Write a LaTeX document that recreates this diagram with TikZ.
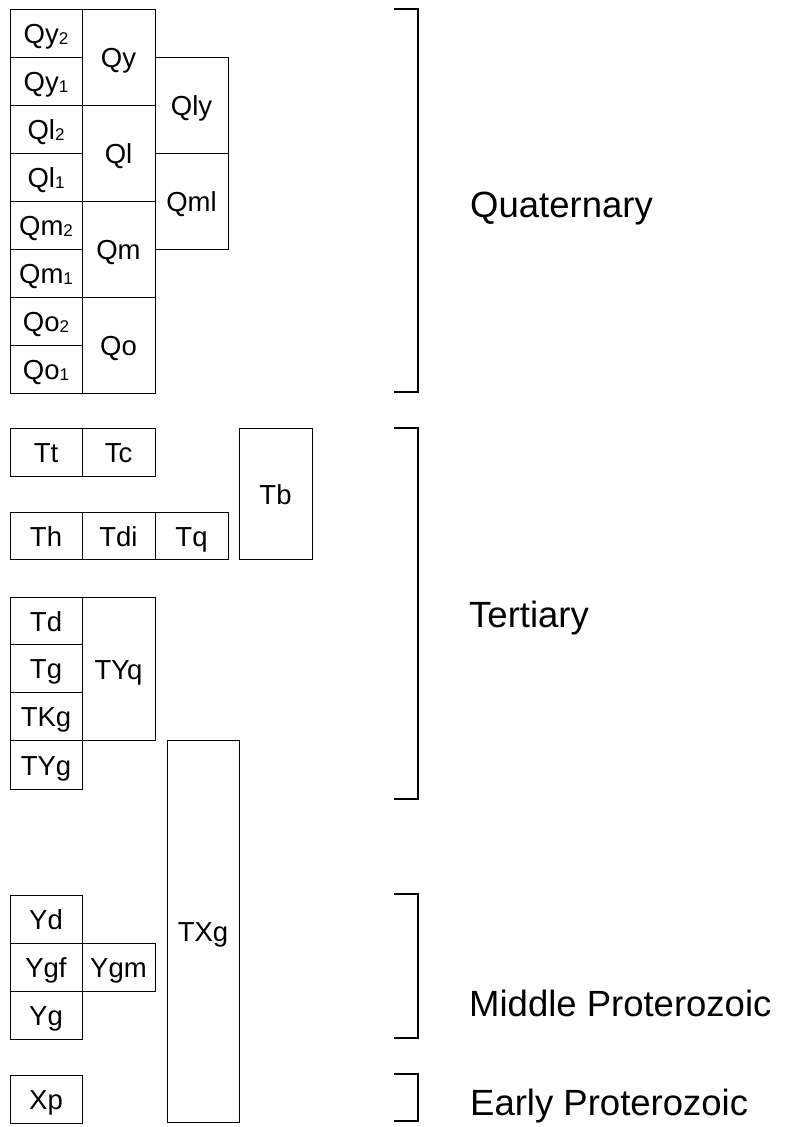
\documentclass[tikz,border=0pt]{standalone}
\usepackage{fontspec}
\setmainfont{Liberation Sans}
\newcommand{\sbx}[1]{\raisebox{-1pt}{\fontsize{17}{17}\selectfont #1}}
\begin{document}
\begin{tikzpicture}[x=1pt,y=-1pt,
  box/.style={draw=black, line width=1pt, inner sep=0pt, font=\fontsize{27.5}{27.5}\selectfont, text height=23pt, text depth=2pt},
  era/.style={anchor=base west, inner sep=0pt, font=\fontsize{36.5}{36.5}\selectfont},
  brk/.style={draw=black, line width=1.1pt}]
\useasboundingbox (0,0) rectangle (791,1127);
% Quaternary
\node[box, minimum width=72pt, minimum height=48pt] (qy2) at (46,33) {Qy\sbx{2}};
\node[box, minimum width=72pt, minimum height=48pt] (qy1) at (46,81) {Qy\sbx{1}};
\node[box, minimum width=72pt, minimum height=48pt] (ql2) at (46,129) {Ql\sbx{2}};
\node[box, minimum width=72pt, minimum height=48pt] (ql1) at (46,177) {Ql\sbx{1}};
\node[box, minimum width=72pt, minimum height=48pt] (qm2) at (46,225) {Qm\sbx{2}};
\node[box, minimum width=72pt, minimum height=48pt] (qm1) at (46,273) {Qm\sbx{1}};
\node[box, minimum width=72pt, minimum height=48pt] (qo2) at (46,321) {Qo\sbx{2}};
\node[box, minimum width=72pt, minimum height=48pt] (qo1) at (46,369) {Qo\sbx{1}};
\node[box, minimum width=73pt, minimum height=96pt] (qy) at (118.5,57) {Qy};
\node[box, minimum width=73pt, minimum height=96pt] (ql) at (118.5,153) {Ql};
\node[box, minimum width=73pt, minimum height=96pt] (qm) at (118.5,249) {Qm};
\node[box, minimum width=73pt, minimum height=96pt] (qo) at (118.5,345) {Qo};
\node[box, minimum width=73pt, minimum height=96pt] (qly) at (191.5,105) {Qly};
\node[box, minimum width=73pt, minimum height=96pt] (qml) at (191.5,201) {Qml};
% Tertiary
\node[box, minimum width=72pt, minimum height=48pt] (tt) at (46,452) {Tt};
\node[box, minimum width=73pt, minimum height=48pt] (tc) at (118.5,452) {Tc};
\node[box, minimum width=72pt, minimum height=47pt] (th) at (46,535.5) {Th};
\node[box, minimum width=73pt, minimum height=47pt] (tdi) at (118.5,535.5) {Tdi};
\node[box, minimum width=73pt, minimum height=47pt] (tq) at (191.5,535.5) {Tq};
\node[box, minimum width=73pt, minimum height=131pt] (tb) at (275.5,493.5) {Tb};
\node[box, minimum width=72pt, minimum height=47pt] (td) at (46,620.5) {Td};
\node[box, minimum width=72pt, minimum height=48pt] (tg) at (46,668) {Tg};
\node[box, minimum width=72pt, minimum height=48pt] (tkg) at (46,716) {TKg};
\node[box, minimum width=72pt, minimum height=49pt] (tyg) at (46,764.5) {TYg};
\node[box, minimum width=73pt, minimum height=143pt] (tyq) at (118.5,668.5) {TYq};
\node[box, minimum width=72pt, minimum height=382pt] (txg) at (203,931) {TXg};
% Proterozoic
\node[box, minimum width=72pt, minimum height=48pt] (yd) at (46,919) {Yd};
\node[box, minimum width=72pt, minimum height=48pt] (ygf) at (46,967) {Ygf};
\node[box, minimum width=72pt, minimum height=48pt] (yg) at (46,1015) {Yg};
\node[box, minimum width=73pt, minimum height=48pt] (ygm) at (118.5,967) {Ygm};
\node[box, minimum width=72pt, minimum height=48pt] (xp) at (46,1099) {Xp};
% brackets
\draw[brk] (394,9) -- (418,9) -- (418,392) -- (394,392);
\draw[brk] (394,428) -- (418,428) -- (418,799) -- (394,799);
\draw[brk] (394,894) -- (418,894) -- (418,1038) -- (394,1038);
\draw[brk] (394,1074) -- (418,1074) -- (418,1121) -- (394,1121);
% labels
\node[era] (lq) at (470,217) {Quaternary};
\node[era] (lt) at (469,627) {Tertiary};
\node[era] (lm) at (469,1016) {Middle Proterozoic};
\node[era] (le) at (470,1115) {Early Proterozoic};
\end{tikzpicture}
\end{document}
